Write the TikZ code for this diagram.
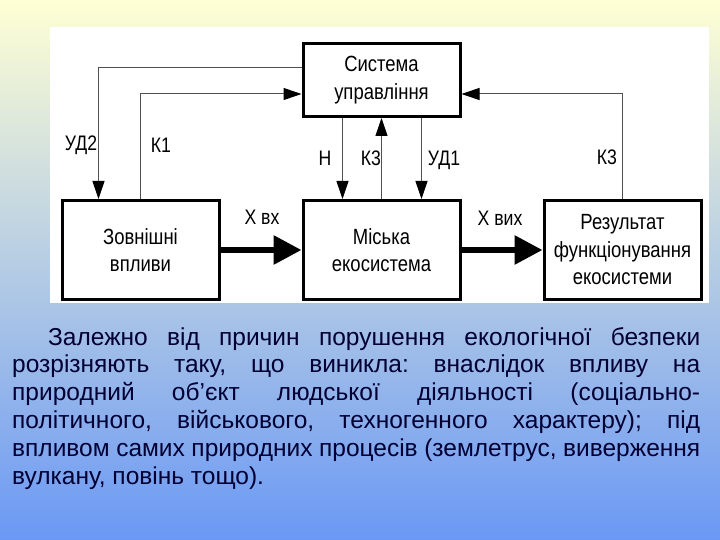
\documentclass[tikz,border=0pt]{standalone}
\usepackage{fontspec}
\setmainfont{Liberation Sans}
\newfontfamily\narrowfont[FakeStretch=0.84]{Liberation Sans}
\usetikzlibrary{positioning, arrows.meta}
\definecolor{navy text}{RGB}{0,0,51}
\definecolor{line gray}{RGB}{80,80,80}
\definecolor{bg top}{RGB}{255,255,212}
\definecolor{bg middle}{RGB}{205,214,228}
\definecolor{bg bottom}{RGB}{106,152,244}
\tikzset{
	node distance=81pt, % gap between the boxes
	white box/.style={
		draw=black,
		line width=3pt,
		fill=white,
		minimum width=157pt,
		minimum height={#1},
		align=center,
		inner sep=0pt,
		font=\narrowfont\fontsize{22pt}{27.5pt}\selectfont,
	},
	signal/.style={
		font=\narrowfont\fontsize{21pt}{25pt}\selectfont,
		inner sep=0pt,
	},
	thin arrow/.style={
		draw=line gray, line width=1pt,
		-{Triangle[length=18pt, width=12pt, color=black]},
	},
	thick arrow/.style={
		line width=6pt,
		-{Triangle[length=28pt, width=28pt]},
	},
}

\begin{document}
\begin{tikzpicture}[x=1pt, y=-1pt]
	% background and white panel
	\shade [top color=bg top, middle color=bg middle, bottom color=bg bottom] (0,0) rectangle (720,540);
	\fill [white] (50,27) rectangle (709,303);
	% boxes
	\node [white box=73pt] (0) at (381.5,80) {Система\\управління};
	\node [white box=99pt, below=of 0] (1) {Міська\\екосистема};
	\node [white box=99pt, left=of 1] (2) {Зовнішні\\впливи};
	\node [white box=99pt, right=of 1] (3) {Результат\\функціонування\\екосистеми};
	% connectors
	\draw [thin arrow] ([yshift=12pt]0.west) -| ([xshift=-42pt]2.north);
	\draw [thin arrow] (2.north) |- ([yshift=-14pt]0.west);
	\draw [thin arrow] ([xshift=-39pt]0.south) -- ([xshift=-39pt]1.north);
	\draw [thin arrow] (1.north) -- (0.south);
	\draw [thin arrow] ([xshift=40pt]0.south) -- ([xshift=40pt]1.north);
	\draw [thin arrow] (3.north) |- ([yshift=-14pt]0.east);
	\draw [thick arrow] (2.east) -- (1.west);
	\draw [thick arrow] (1.east) -- (3.west);
	% labels
	\node [signal] (4) at (81,145) {УД2};
	\node [signal] (5) at (161,145) {К1};
	\node [signal] (6) at (325,158) {Н};
	\node [signal] (7) at (371,158) {К3};
	\node [signal] (8) at (444,160) {УД1};
	\node [signal] (9) at (607,157) {К3};
	\node [signal] (10) at (262,217) {Х вх};
	\node [signal] (11) at (500,218) {Х вих};
	% text under the diagram
	\node [anchor=base west, text width=688pt, align=justify, inner sep=0pt, text=navy text,
		font=\fontsize{24.5pt}{27.8pt}\selectfont] (12) at (12,345)
		{\frenchspacing\hyphenpenalty=10000\exhyphenpenalty=10000\tolerance=9999
		\hspace*{36pt}Залежно від причин порушення екологічної безпеки\linebreak
		розрізняють таку, що виникла: внаслідок впливу на\linebreak
		природний об’єкт людської діяльності (соціально-\linebreak
		політичного, військового, техногенного характеру); під\linebreak
		впливом самих природних процесів (землетрус, виверження\linebreak
		вулкану, повінь тощо).};
\end{tikzpicture}
\end{document}
